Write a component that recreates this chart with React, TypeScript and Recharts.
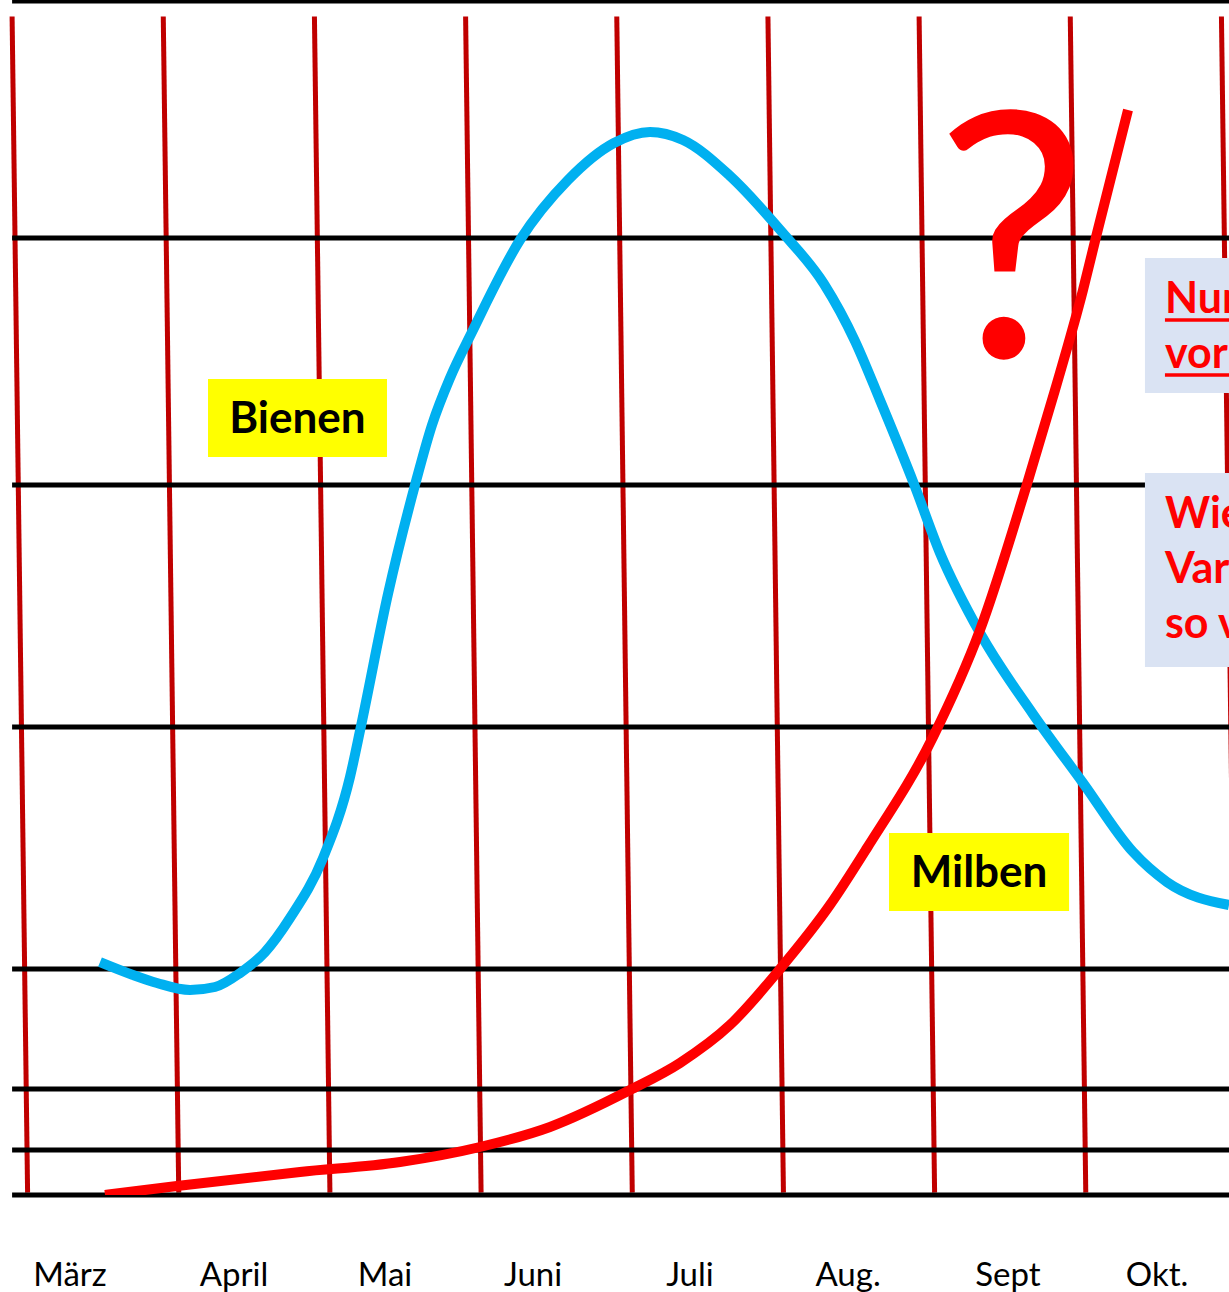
import React from "react";
import { ComposedChart, Line, XAxis, YAxis, ReferenceLine, ReferenceArea } from "recharts";

// x axis in "month" units: 0 = first red grid line, 1 unit = one month column
const monthLabels = ["März", "April", "Mai", "Juni", "Juli", "Aug.", "Sept", "Okt."];
const monthTicks = [0.383, 1.468, 2.467, 3.446, 4.484, 5.53, 6.588, 7.574];

// red vertical grid lines (slightly tilted, bottom end shifted right)
const monthLines = [0, 1, 2, 3, 4, 5, 6, 7, 8];
// black horizontal lines (0 = bottom, 100 = top)
const levelLines = [0, 3.77, 8.88, 18.93, 39.2, 59.46, 80.15, 100];

const bienen = [
  { x: 0.5815, y: 19.51 },
  { x: 0.7998, y: 18.43 },
  { x: 0.9586, y: 17.76 },
  { x: 1.177, y: 17.17 },
  { x: 1.3423, y: 17.42 },
  { x: 1.5077, y: 18.59 },
  { x: 1.6731, y: 20.35 },
  { x: 1.8385, y: 23.2 },
  { x: 2.0567, y: 28.22 },
  { x: 2.2353, y: 35.01 },
  { x: 2.3081, y: 39.28 },
  { x: 2.4867, y: 50.34 },
  { x: 2.6653, y: 59.46 },
  { x: 2.7778, y: 64.49 },
  { x: 2.8969, y: 68.43 },
  { x: 3.0424, y: 72.28 },
  { x: 3.3599, y: 79.98 },
  { x: 3.6775, y: 85.01 },
  { x: 3.9818, y: 88.11 },
  { x: 4.2199, y: 89.03 },
  { x: 4.4382, y: 88.36 },
  { x: 4.7425, y: 85.43 },
  { x: 5.0931, y: 80.65 },
  { x: 5.3709, y: 76.3 },
  { x: 5.576, y: 71.52 },
  { x: 5.741, y: 66.58 },
  { x: 5.966, y: 59.55 },
  { x: 6.1383, y: 53.77 },
  { x: 6.4029, y: 47.07 },
  { x: 6.7535, y: 40.28 },
  { x: 7.0843, y: 34.51 },
  { x: 7.415, y: 28.73 },
  { x: 7.6399, y: 26.21 },
  { x: 8.05, y: 24.29 },
];

const milben = [
  { x: 0.6146, y: 0 },
  { x: 1.0909, y: 0.75 },
  { x: 1.9046, y: 1.93 },
  { x: 2.5661, y: 2.76 },
  { x: 3.0953, y: 4.02 },
  { x: 3.5584, y: 5.7 },
  { x: 4.0876, y: 8.79 },
  { x: 4.4183, y: 11.06 },
  { x: 4.7491, y: 14.24 },
  { x: 5.0798, y: 18.93 },
  { x: 5.4106, y: 24.29 },
  { x: 5.6553, y: 29.06 },
  { x: 6.0919, y: 38.36 },
  { x: 6.4029, y: 47.32 },
  { x: 6.7138, y: 59.55 },
  { x: 6.899, y: 67.42 },
  { x: 7.0843, y: 75.8 },
  { x: 7.1703, y: 80.23 },
  { x: 7.382, y: 90.87 },
];

const FONT = "Lato, 'Open Sans', sans-serif";

const MonthTick = (props: any) => {
  const { x, y, index } = props;
  return (
    <text x={x} y={y + 83} textAnchor="middle" fontFamily={FONT} fontSize={33} fill="#000">
      {monthLabels[index]}
    </text>
  );
};

const centerLabel = (text: string) => (props: any) => {
  const vb = props.viewBox || {};
  return (
    <text
      x={vb.x + vb.width / 2}
      y={vb.y + vb.height / 2 + 15}
      textAnchor="middle"
      fontFamily={FONT}
      fontWeight={700}
      fontSize={44}
      fill="#000"
    >
      {text}
    </text>
  );
};

const noteLabel = (lines: string[], underline: boolean) => (props: any) => {
  const vb = props.viewBox || {};
  const left = vb.x + 20;
  return (
    <g>
      {lines.map((t, i) => (
        <g key={t}>
          <text x={left} y={vb.y + 55 + i * 55} fontFamily={FONT} fontWeight={700} fontSize={43} fill="#FF0000">
            {t}
          </text>
          {underline && (
            <line x1={left} x2={vb.x + vb.width + 200} y1={vb.y + 62 + i * 55} y2={vb.y + 62 + i * 55} stroke="#FF0000" strokeWidth={3.5} />
          )}
        </g>
      ))}
    </g>
  );
};

const questionLabel = (props: any) => {
  const vb = props.viewBox || {};
  return (
    <text x={vb.x + vb.width / 2} y={vb.y + vb.height} textAnchor="middle" fontFamily={FONT} fontSize={342} fill="#FF0000">
      ?
    </text>
  );
};

export default function App() {
  return (
    <div style={{ position: "absolute", left: 0, top: 0, width: 1229, height: 1292, background: "#fff", overflow: "hidden" }}>
      <ComposedChart width={1229} height={1292} margin={{ top: 1, right: 0, bottom: 0, left: 0 }}>
        <XAxis
          type="number"
          dataKey="x"
          domain={[-0.08, 8.05]}
          ticks={monthTicks}
          interval={0}
          tick={<MonthTick />}
          axisLine={false}
          tickLine={false}
          height={97}
          allowDataOverflow
        />
        <YAxis type="number" domain={[0, 100]} hide allowDataOverflow />

        {monthLines.map((m) => (
          <ReferenceLine
            key={`v${m}`}
            segment={[{ x: m, y: 98.7 }, { x: m + 0.1025, y: 0.2 }]}
            stroke="#C00000"
            strokeWidth={5}
            ifOverflow="visible"
            zIndex={101}
          />
        ))}
        {levelLines.map((v) => (
          <ReferenceLine
            key={`h${v}`}
            segment={[{ x: 0, y: v }, { x: 8.05, y: v }]}
            stroke="#000"
            strokeWidth={5}
            ifOverflow="visible"
            zIndex={102}
          />
        ))}

        <ReferenceArea x1={1.296} x2={2.48} y1={61.81} y2={68.34} fill="#FFFF00" fillOpacity={1} stroke="none" ifOverflow="visible" zIndex={103} label={centerLabel("Bienen")} />
        <ReferenceArea x1={5.801} x2={6.992} y1={23.79} y2={30.32} fill="#FFFF00" fillOpacity={1} stroke="none" ifOverflow="visible" zIndex={103} label={centerLabel("Milben")} />
        <ReferenceArea x1={7.494} x2={8.05} y1={67.17} y2={78.48} fill="#DAE3F3" fillOpacity={1} stroke="none" ifOverflow="visible" zIndex={103} label={noteLabel(["Nur mit Behandlung", "vor dem Winter"], true)} />
        <ReferenceArea x1={7.494} x2={8.05} y1={44.22} y2={60.47} fill="#DAE3F3" fillOpacity={1} stroke="none" ifOverflow="visible" zIndex={103} label={noteLabel(["Wie viele", "Varroen sind es", "so viele?"], false)} />
        <ReferenceArea x1={6.184} x2={7.044} y1={70.18} y2={91.04} fill="none" fillOpacity={0} stroke="none" ifOverflow="visible" zIndex={103} label={questionLabel} />

        <Line data={bienen} dataKey="y" type="monotone" stroke="#00B0F0" strokeWidth={10} dot={false} activeDot={false} isAnimationActive={false} zIndex={400} />
        <Line data={milben} dataKey="y" type="monotone" stroke="#FF0000" strokeWidth={10} dot={false} activeDot={false} isAnimationActive={false} zIndex={401} />
      </ComposedChart>
    </div>
  );
}
